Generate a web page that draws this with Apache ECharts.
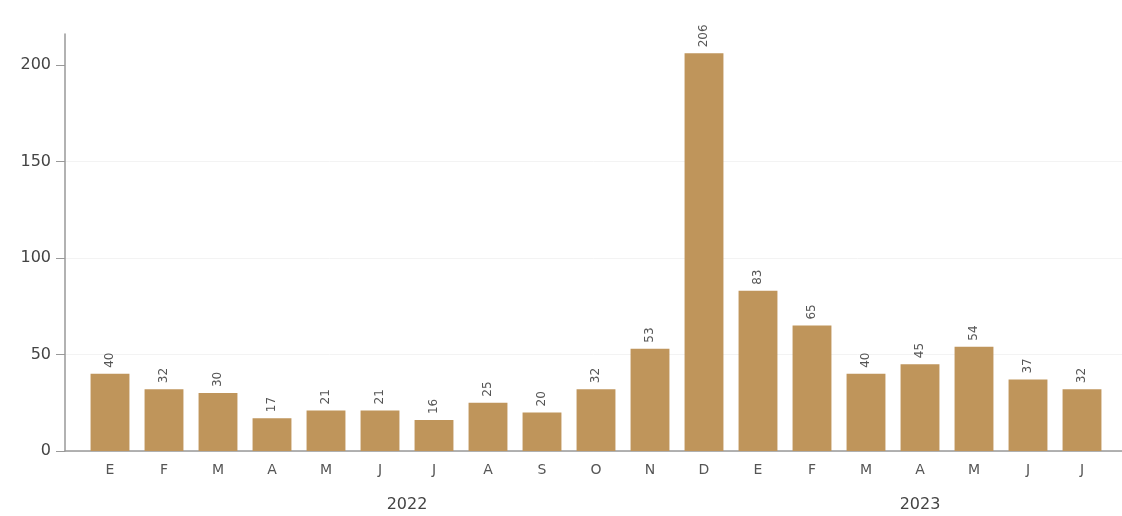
<!DOCTYPE html>
<html>
<head>
<meta charset="utf-8">
<script src="https://cdn.jsdelivr.net/npm/echarts@6/dist/echarts.min.js"></script>
<style>html,body{margin:0;padding:0;background:#fff}#c{width:1122px;height:516px}</style>
</head>
<body>
<div id="c"></div>
<script>
const months = ['E','F','M','A','M','J','J','A','S','O','N','D','E','F','M','A','M','J','J'];
const values = [40,32,30,17,21,21,16,25,20,32,53,206,83,65,40,45,54,37,32];
const years = ['2022','2023'];
const monthsPerYear = [12,7];
const yTicks = [0,50,100,150,200];

const yearCenters = {};
let start = 0;
years.forEach((y,i)=>{ const c = start + (monthsPerYear[i]-1)/2; yearCenters[c.toFixed(1)] = y; start += monthsPerYear[i]; });

const FONT = 'DejaVu Sans';
const TXT = '#555';
const yMax = 216;
const gridTop = 34, gridBottom = 65;

const chart = echarts.init(document.getElementById('c'));
chart.setOption({
  animation:false,
  textStyle:{fontFamily:FONT},
  grid:[
    {left:65, right:0, top:gridTop, bottom:gridBottom},
    {left:83, width:1026, top:gridTop, bottom:gridBottom}
  ],
  xAxis:[
    {gridIndex:0, type:'value', min:0, max:1, show:true, axisLine:{show:true, lineStyle:{color:'#999', width:1.5}}, axisTick:{show:false}, axisLabel:{show:false}, splitLine:{show:false}},
    {gridIndex:1, type:'category', data:months, axisLine:{show:false}, axisTick:{show:false},
     axisLabel:{color:TXT, fontSize:14, margin:12, fontFamily:FONT}},
    {gridIndex:1, type:'value', position:'bottom', min:-0.5, max:months.length-0.5, interval:0.5,
     axisLine:{show:false}, axisTick:{show:false}, splitLine:{show:false},
     axisLabel:{show:true, margin:46, color:'#444', fontSize:16, fontFamily:FONT, showMinLabel:true, showMaxLabel:true,
       formatter:v=>yearCenters[(Math.round(v*2)/2).toFixed(1)]||''}}
  ],
  yAxis:[
    {gridIndex:0, type:'value', min:0, max:yMax, interval:50,
     axisLine:{show:true, lineStyle:{color:'#999', width:1.5}},
     axisTick:{show:true, length:9, lineStyle:{color:'#999'}, customValues:yTicks},
     axisLabel:{color:'#444', fontSize:16, margin:14, fontFamily:FONT, customValues:yTicks},
     splitLine:{show:true, showMaxLine:false, lineStyle:{color:'#f3f3f3', width:1}}},
    {gridIndex:1, type:'value', min:0, max:yMax, interval:50, show:false}
  ],
  series:[{
    type:'bar', xAxisIndex:1, yAxisIndex:1, data:values, barCategoryGap:'28%',
    itemStyle:{color:'#BF955B'},
    label:{show:true, position:'top', rotate:90, align:'left', verticalAlign:'middle', distance:6,
      color:TXT, fontSize:12, fontFamily:FONT}
  }]
});
</script>
</body>
</html>
